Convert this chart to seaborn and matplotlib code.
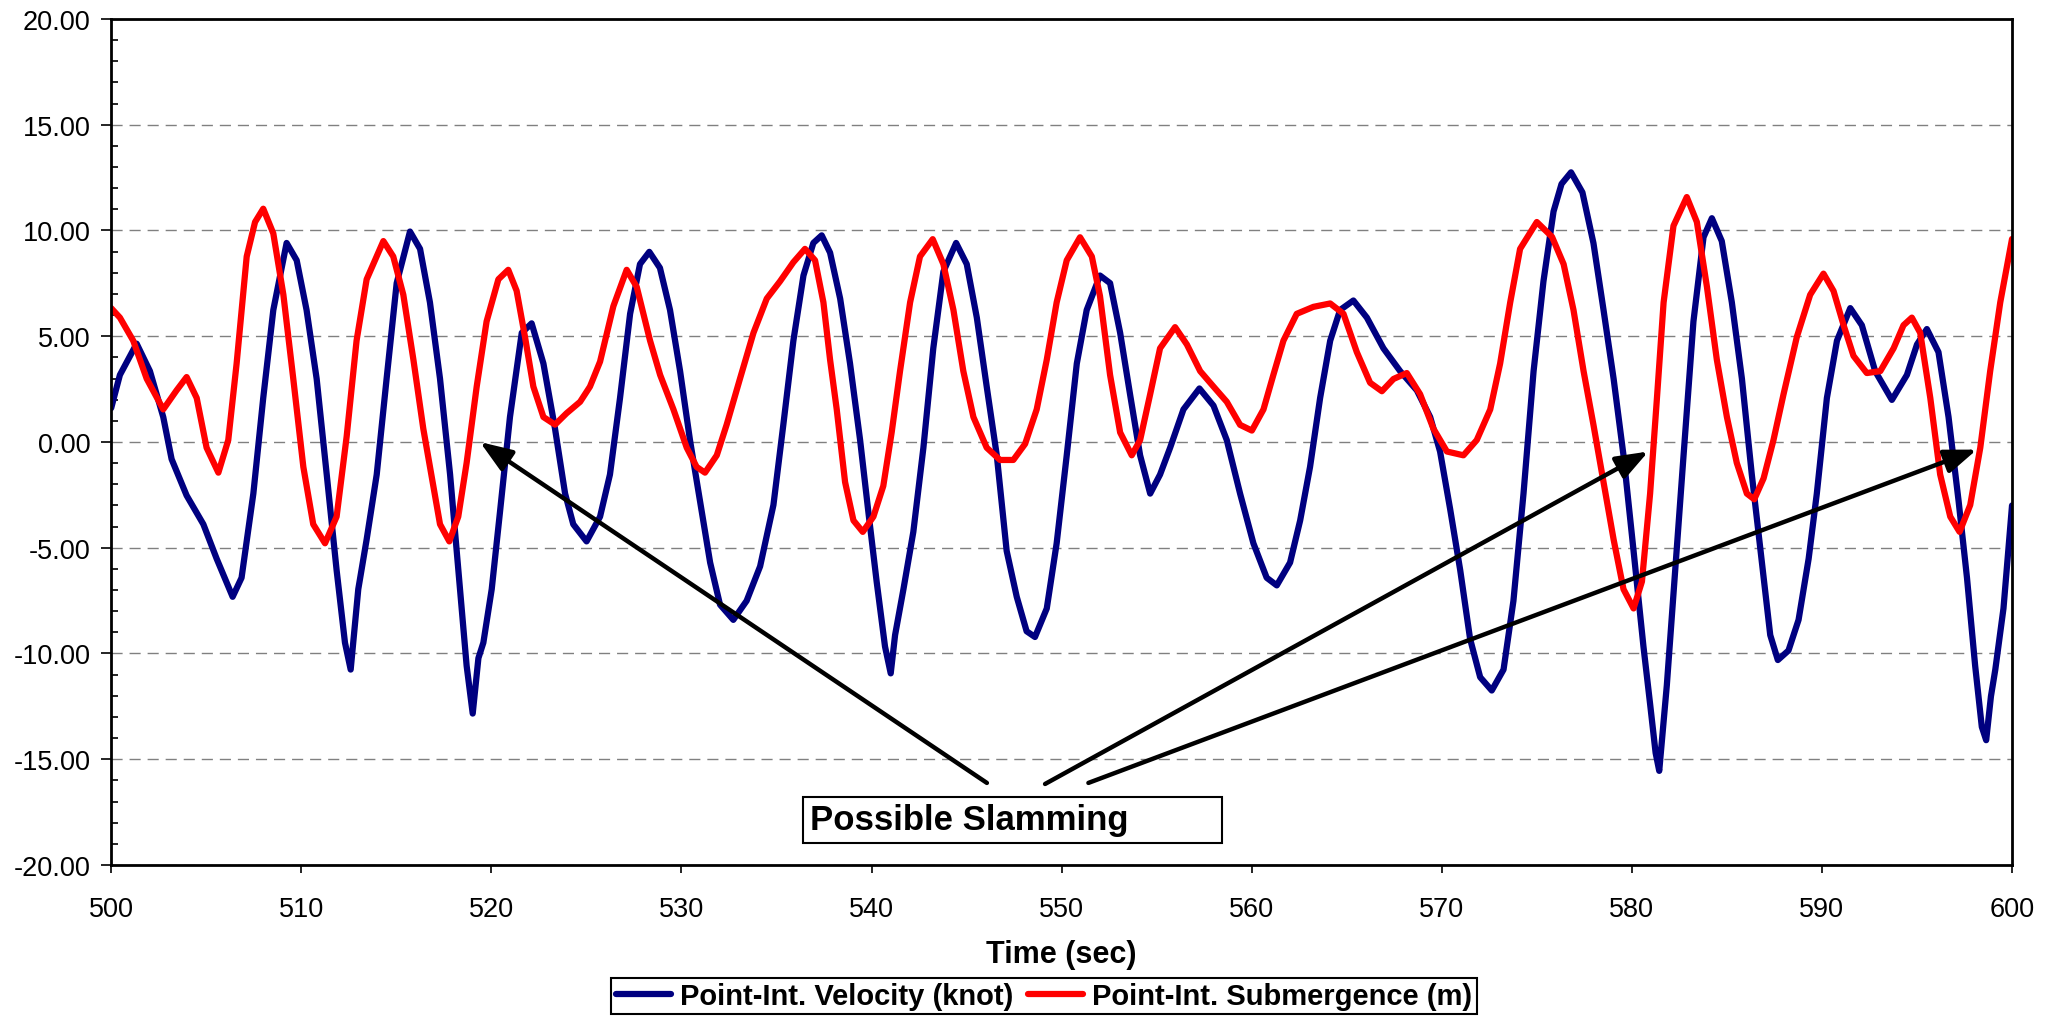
import seaborn as sns
import numpy as np
import pandas as pd
from matplotlib import pyplot as plt
from matplotlib import patches
from matplotlib.ticker import MultipleLocator, FormatStrFormatter

# values
vel_time = [500.0, 500.46, 501.34, 502.04, 502.74, 503.18, 503.97, 504.85, 505.55, 506.39,
            506.86, 507.48, 508.00, 508.53, 509.23, 509.76, 510.28, 510.81, 511.34, 511.86,
            512.30, 512.60, 513.00, 513.44, 513.97, 514.49, 515.02, 515.72, 516.25, 516.77,
            517.30, 517.83, 518.35, 518.70, 519.02, 519.32, 519.58, 520.02, 520.45, 520.98,
            521.60, 522.12, 522.74, 523.35, 523.88, 524.31, 525.01, 525.72, 526.24, 526.77,
            527.30, 527.82, 528.31, 528.87, 529.40, 529.93, 530.45, 530.98, 531.51, 532.03,
            532.73, 533.43, 534.14, 534.84, 535.36, 535.89, 536.42, 536.94, 537.38, 537.82,
            538.35, 538.87, 539.40, 539.84, 540.27, 540.71, 541.01, 541.24, 541.68, 542.20,
            542.73, 543.25, 543.78, 544.45, 545.01, 545.54, 546.06, 546.59, 547.11, 547.64,
            548.16, 548.60, 549.22, 549.74, 550.27, 550.80, 551.32, 552.02, 552.55, 553.08,
            553.60, 554.13, 554.66, 555.18, 555.71, 556.41, 557.25, 557.99, 558.69, 559.39,
            560.09, 560.79, 561.32, 562.02, 562.55, 563.07, 563.60, 564.13, 564.65, 565.35,
            566.06, 566.93, 567.81, 568.69, 569.39, 569.91, 570.44, 570.97, 571.49, 572.02,
            572.63, 573.25, 573.77, 574.30, 574.83, 575.35, 575.88, 576.30, 576.80, 577.40,
            577.98, 578.51, 579.04, 579.56, 580.09, 580.61, 580.96, 581.25, 581.44, 581.84,
            582.28, 582.72, 583.24, 583.77, 584.21, 584.73, 585.26, 585.79, 586.31, 586.84,
            587.28, 587.68, 588.24, 588.77, 589.30, 589.73, 590.26, 590.79, 591.49, 592.10,
            592.80, 593.68, 594.47, 595.00, 595.52, 596.13, 596.66, 597.19, 597.63, 598.06,
            598.41, 598.64, 598.89, 599.12, 599.55, 600.0]
vel_knot = [1.6, 3.17, 4.65, 3.35, 1.18, -0.81, -2.53, -3.89, -5.52, -7.32,
            -6.42, -2.44, 2.08, 6.24, 9.41, 8.59, 6.24, 2.99, -1.54, -6.06,
            -9.49, -10.76, -6.96, -4.61, -1.54, 2.99, 7.51, 9.95, 9.13, 6.60,
            2.99, -1.54, -6.96, -10.58, -12.84, -10.22, -9.49, -6.96, -3.35, 1.18,
            5.16, 5.61, 3.71, 0.63, -2.44, -3.89, -4.70, -3.53, -1.54, 2.08,
            6.06, 8.41, 8.99, 8.23, 6.24, 3.35, 0.09, -2.80, -5.70, -7.69,
            -8.41, -7.51, -5.88, -2.98, 0.81, 4.79, 7.87, 9.41, 9.77, 8.95,
            6.78, 3.71, 0.09, -3.35, -6.60, -9.67, -10.94, -9.13, -6.96, -4.25,
            -0.27, 4.43, 8.05, 9.41, 8.41, 5.88, 2.62, -0.63, -5.15, -7.32,
            -8.95, -9.22, -7.87, -4.79, -0.63, 3.71, 6.24, 7.87, 7.51, 5.16,
            2.26, -0.63, -2.44, -1.54, -0.27, 1.54, 2.53, 1.72, 0.09, -2.44,
            -4.79, -6.42, -6.78, -5.70, -3.71, -1.18, 2.08, 4.79, 6.24, 6.69,
            5.88, 4.43, 3.35, 2.44, 1.18, -0.45, -3.17, -6.06, -9.31, -11.12,
            -11.75, -10.76, -7.51, -2.44, 3.35, 7.60, 10.90, 12.20, 12.75, 11.80,
            9.40, 6.24, 2.99, -0.63, -5.15, -9.67, -12.39, -14.70, -15.55, -11.50,
            -6.06, -0.63, 5.70, 9.68, 10.58, 9.50, 6.60, 2.99, -1.54, -5.70,
            -9.13, -10.31, -9.86, -8.41, -5.52, -2.44, 2.08, 4.79, 6.33, 5.52,
            3.35, 1.99, 3.17, 4.61, 5.34, 4.25, 1.18, -2.80, -6.42, -10.58,
            -13.47, -14.10, -12.03, -10.76, -7.87, -3.0]

sub_time = [500.0, 500.46, 501.16, 501.87, 502.74, 503.44, 503.97, 504.50, 505.02, 505.64,
            506.16, 506.60, 507.13, 507.57, 508.00, 508.53, 509.06, 509.58, 510.11, 510.63,
            511.25, 511.86, 512.39, 512.91, 513.44, 514.32, 514.84, 515.37, 515.90, 516.42,
            516.95, 517.30, 517.79, 518.26, 518.70, 519.23, 519.75, 520.37, 520.89, 521.33,
            521.77, 522.21, 522.74, 523.35, 523.96, 524.67, 525.19, 525.72, 526.42, 527.12,
            527.65, 528.35, 528.88, 529.58, 530.28, 530.80, 531.24, 531.86, 532.38, 533.08,
            533.79, 534.49, 535.19, 535.89, 536.50, 537.03, 537.47, 537.82, 538.17, 538.61,
            539.05, 539.54, 540.10, 540.62, 541.06, 541.50, 542.03, 542.55, 543.22, 543.78,
            544.31, 544.83, 545.36, 546.06, 546.76, 547.46, 548.08, 548.69, 549.22, 549.74,
            550.27, 550.97, 551.59, 552.02, 552.55, 553.08, 553.69, 554.13, 554.66, 555.18,
            555.97, 556.59, 557.29, 557.99, 558.69, 559.39, 560.01, 560.62, 561.14, 561.67,
            562.37, 563.25, 564.13, 564.83, 565.53, 566.23, 566.85, 567.46, 568.16, 568.86,
            569.56, 570.27, 571.14, 571.84, 572.55, 573.07, 573.60, 574.12, 575.00, 575.80,
            576.41, 576.93, 577.46, 577.98, 578.51, 579.04, 579.56, 580.09, 580.53, 580.96,
            581.32, 581.67, 582.19, 582.89, 583.42, 583.95, 584.47, 585.00, 585.52, 586.05,
            586.44, 586.93, 587.45, 587.98, 588.68, 589.38, 590.08, 590.61, 591.14, 591.66,
            592.36, 593.07, 593.77, 594.29, 594.73, 595.17, 595.70, 596.22, 596.75, 597.24,
            597.80, 598.33, 598.85, 599.38, 600.0]
sub_m = [6.33, 5.88, 4.79, 2.99, 1.54, 2.44, 3.07, 2.08, -0.27, -1.45,
         0.09, 3.71, 8.77, 10.40, 11.03, 9.86, 6.96, 2.99, -1.18, -3.89,
         -4.79, -3.53, 0.27, 4.79, 7.69, 9.50, 8.77, 6.96, 3.89, 0.63,
         -2.08, -3.89, -4.70, -3.53, -0.99, 2.62, 5.70, 7.69, 8.14, 7.15,
         4.97, 2.62, 1.18, 0.82, 1.36, 1.90, 2.62, 3.80, 6.42, 8.14,
         7.33, 4.79, 3.17, 1.54, -0.27, -1.18, -1.45, -0.63, 0.82, 2.99,
         5.16, 6.78, 7.60, 8.50, 9.13, 8.59, 6.60, 3.89, 1.54, -1.90,
         -3.71, -4.25, -3.53, -2.08, 0.45, 3.35, 6.60, 8.77, 9.59, 8.41,
         6.24, 3.35, 1.18, -0.27, -0.85, -0.85, -0.09, 1.54, 3.89, 6.60,
         8.59, 9.68, 8.77, 6.90, 3.17, 0.45, -0.63, 0.09, 2.26, 4.43,
         5.43, 4.61, 3.35, 2.62, 1.90, 0.81, 0.54, 1.54, 3.17, 4.79,
         6.06, 6.39, 6.55, 6.06, 4.25, 2.80, 2.40, 2.98, 3.26, 2.26,
         0.63, -0.45, -0.63, 0.09, 1.54, 3.71, 6.60, 9.13, 10.40, 9.70,
         8.41, 6.24, 3.35, 0.81, -1.90, -4.61, -6.96, -7.87, -6.60, -2.44,
         2.08, 6.60, 10.22, 11.58, 10.40, 7.33, 3.89, 1.18, -0.99, -2.44,
         -2.71, -1.72, 0.09, 2.26, 4.97, 6.96, 7.96, 7.14, 5.52, 4.07,
         3.26, 3.35, 4.43, 5.52, 5.88, 5.16, 2.08, -1.54, -3.53, -4.25,
         -2.98, -0.27, 3.35, 6.60, 9.60]

series_names = ["Point-Int. Velocity (knot)", "Point-Int. Submergence (m)"]
series_colors = ["#000080", "#FF0000"]

note_text = "Possible Slamming"
arrow_tails = [(546.07, -16.12), (549.13, -16.17), (551.41, -16.12)]
arrow_heads = [(519.40, 0.0), (580.87, -0.45), (598.15, -0.36)]

sns.set_theme(style="white")
plt.rcParams['font.family'] = ['Liberation Sans', 'DejaVu Sans']
plt.rcParams['axes.unicode_minus'] = False
plt.rcParams['text.color'] = 'black'
plt.rcParams['axes.labelcolor'] = 'black'
plt.rcParams['xtick.color'] = 'black'
plt.rcParams['ytick.color'] = 'black'

fig, ax = plt.subplots(figsize=(20.51, 10.20), dpi=100)
fig.subplots_adjust(left=0.0542, right=0.981, top=0.9804, bottom=0.151)

vel_df = pd.DataFrame({"t": vel_time, "v": vel_knot})
sub_df = pd.DataFrame({"t": sub_time, "v": sub_m})
sns.lineplot(data=vel_df, x="t", y="v", color=series_colors[0], lw=4.5, ax=ax,
             sort=False, legend=False, solid_joinstyle="round", solid_capstyle="round")
sns.lineplot(data=sub_df, x="t", y="v", color=series_colors[1], lw=4.5, ax=ax,
             sort=False, legend=False, solid_joinstyle="round", solid_capstyle="round")

ax.set_xlim(500, 600)
ax.set_ylim(-20, 20)
ax.xaxis.set_major_locator(MultipleLocator(10))
ax.yaxis.set_major_locator(MultipleLocator(5))
ax.yaxis.set_minor_locator(MultipleLocator(1))
ax.yaxis.set_major_formatter(FormatStrFormatter("%.2f"))
ax.yaxis.grid(True, which="major", color="#808080", lw=1.0, linestyle=(0, (8, 5)))
ax.xaxis.grid(False)
for s in ax.spines.values():
    s.set_color("black")
    s.set_linewidth(2)
ax.tick_params(axis="y", which="major", direction="out", length=7, width=1.2,
               labelsize=19.5, pad=8, left=True)
ax.tick_params(axis="y", which="minor", direction="in", length=5, width=1.2, left=True)
ax.tick_params(axis="x", which="major", direction="out", length=6, width=1.2,
               labelsize=19.5, pad=16, bottom=True)

ax.set_xlabel("Time (sec)", fontsize=22, fontweight="bold")
ax.xaxis.set_label_coords(0.5, -0.105)
ax.xaxis.label.set_va("center")
ax.set_ylabel("")

# annotation box and arrows
ax.add_patch(patches.Rectangle((536.38, -18.96), 22.08, 2.19, facecolor="white",
                               edgecolor="black", lw=1.5, zorder=5))
ax.text(536.77, -17.87, note_text, fontsize=25, fontweight="bold",
        va="center", ha="left", zorder=6)
for tail, head in zip(arrow_tails, arrow_heads):
    ax.annotate("", xy=head, xytext=tail, zorder=7,
                arrowprops=dict(arrowstyle="-|>,head_length=0.75,head_width=0.28",
                                mutation_scale=26, lw=3.2, color="black",
                                shrinkA=0, shrinkB=0))

handles = ax.get_lines()[:2]
leg = fig.legend(handles, series_names, loc="center", bbox_to_anchor=(0.509, 0.0225),
                 ncol=2, frameon=True, fancybox=False, edgecolor="black",
                 framealpha=1, borderpad=0.15, handlelength=1.9, handletextpad=0.3,
                 columnspacing=0.5, prop={"size": 21, "weight": "bold"})
leg.get_frame().set_linewidth(1.5)

plt.savefig("out.png", dpi=100)
